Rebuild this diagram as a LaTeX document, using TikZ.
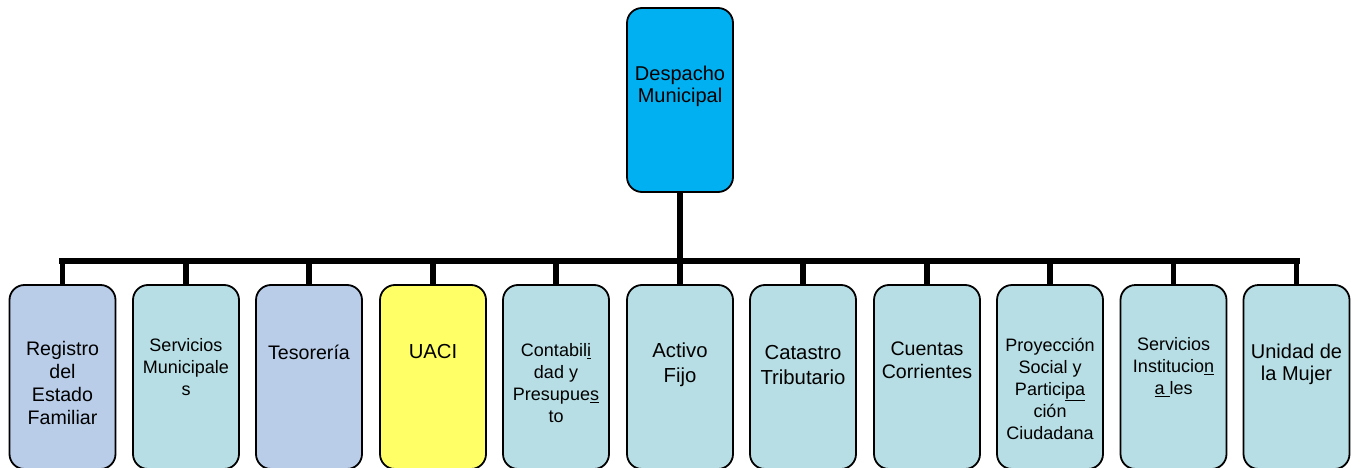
\documentclass[tikz,border=0pt]{standalone}
\usepackage{fontspec}
\setmainfont{Liberation Sans}
\definecolor{topblue}{HTML}{00B0F0}
\definecolor{lblue}{HTML}{B9CDE8}
\definecolor{lteal}{HTML}{B7DEE4}
\definecolor{lyellow}{HTML}{FFFF66}
\begin{document}
\begin{tikzpicture}[x=1pt,y=-1pt,
  box/.style={draw, line width=1.8pt, rounded corners=15pt, minimum width=106pt, minimum height=184pt, inner sep=0pt},
  big/.style={font=\fontsize{20.3}{25}\selectfont, align=center, inner sep=0pt},
  mid/.style={font=\fontsize{19.6}{22.7}\selectfont, align=center, inner sep=0pt},
  small/.style={font=\fontsize{18}{21.8}\selectfont, align=center, inner sep=0pt},
  drop/.style={line width=5.4pt},
  barline/.style={line width=6.5pt, line cap=rect}]
\useasboundingbox (0,0) rectangle (1362,468);
% boxes
\node[box, fill=topblue] (top) at (680,100) {};
\node[box, fill=lblue]   (b1)  at (62.5,377) {};
\node[box, fill=lteal]   (b2)  at (186,377) {};
\node[box, fill=lblue]   (b3)  at (309,377) {};
\node[box, fill=lyellow] (b4)  at (433,377) {};
\node[box, fill=lteal]   (b5)  at (556,377) {};
\node[box, fill=lteal]   (b6)  at (680,377) {};
\node[box, fill=lteal]   (b7)  at (803,377) {};
\node[box, fill=lteal]   (b8)  at (927,377) {};
\node[box, fill=lteal]   (b9)  at (1050,377) {};
\node[box, fill=lteal]   (b10) at (1173.5,377) {};
\node[box, fill=lteal]   (b11) at (1296.5,377) {};
% connectors
\coordinate (j) at (680,261);
\draw[drop] (top.south) -- (j);
\draw[barline] (j -| b1.north) -- (j -| b11.north);
\foreach \b in {b1,b2,b3,b4,b5,b6,b7,b8,b9,b10,b11}
  \draw[drop] (\b.north) -- (\b.north |- j);
% texts
\node[mid, font=\fontsize{20}{22}\selectfont] (t0) at (680,86) {Despacho\\Municipal};
\node[mid]   (t1)  at (62.5,383) {Registro\\del\\Estado\\Familiar};
\node[small] (t2)  at (186,367) {Servicios\\Municipale\\s};
\node[mid]   (t3)  at (309,352) {Tesorería};
\node[big]   (t4)  at (433,352) {UACI};
\node[small] (t5)  at (556,383) {Contabil\underline{i}\\dad y\\Presupue\underline{s}\\to};
\node[big]   (t6)  at (680,365) {Activo\\Fijo};
\node[big]   (t7)  at (803,365) {Catastro\\Tributario};
\node[mid]   (t8)  at (927,360) {Cuentas\\Corrientes};
\node[small] (t9)  at (1050,389) {Proyección\\Social y\\Partici\underline{pa}\\ción\\Ciudadana};
\node[small] (t10) at (1173.5,367) {Servicios\\Institucio\underline{n}\\\underline{a }les};
\node[mid, font=\fontsize{20}{22}\selectfont] (t11) at (1296.5,364) {Unidad de\\la Mujer};
\end{tikzpicture}
\end{document}
